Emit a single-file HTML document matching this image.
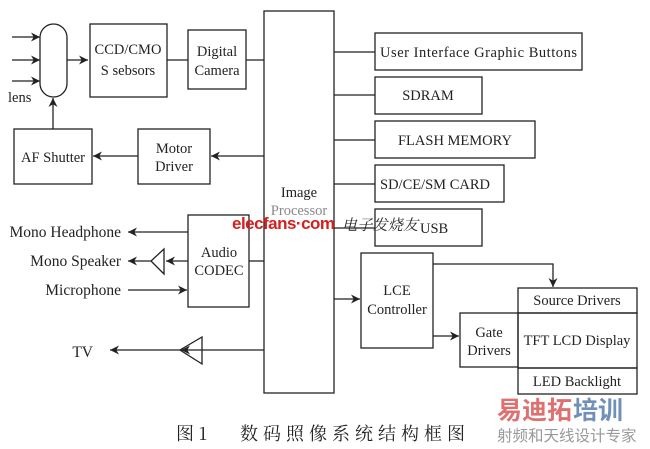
<!DOCTYPE html>
<html><head><meta charset="utf-8"><style>
html,body{margin:0;padding:0;background:#fff;}
svg{display:block;}
text{font-family:"Liberation Serif","Noto Serif CJK SC",serif;fill:#222;}
</style></head><body>
<svg width="650" height="449" viewBox="0 0 650 449" xmlns="http://www.w3.org/2000/svg">
<defs>
<marker id="a" viewBox="0 0 10 10" refX="10" refY="5" markerWidth="9" markerHeight="9" markerUnits="userSpaceOnUse" orient="auto"><path d="M0,0 L10,5 L0,10 L3,5 z" fill="#222"/></marker>
</defs>
<g stroke="#222" stroke-width="1.3" fill="none">
<rect x="40" y="24" width="27" height="73" rx="13.5" fill="#fff"/>
<line x1="12" y1="37" x2="40" y2="37" marker-end="url(#a)"/>
<line x1="12" y1="60" x2="40" y2="60" marker-end="url(#a)"/>
<line x1="12" y1="81" x2="40" y2="81" marker-end="url(#a)"/>
<line x1="67" y1="60" x2="88" y2="60" marker-end="url(#a)"/>
<rect x="90" y="24" width="77" height="73"/>
<line x1="167" y1="60" x2="188" y2="60"/>
<rect x="188" y="30" width="58" height="59"/>
<line x1="246" y1="60" x2="264" y2="60"/>
<rect x="14" y="129" width="78" height="55"/>
<rect x="138" y="129" width="72" height="55"/>
<line x1="53" y1="129" x2="53" y2="98" marker-end="url(#a)"/>
<line x1="138" y1="156" x2="93" y2="156" marker-end="url(#a)"/>
<line x1="264" y1="156" x2="211" y2="156" marker-end="url(#a)"/>
<rect x="264" y="11" width="70" height="382"/>
<rect x="375" y="33" width="207" height="37"/>
<rect x="375" y="77" width="107" height="37"/>
<rect x="375" y="121" width="160" height="37"/>
<rect x="375" y="165" width="129" height="37"/>
<rect x="375" y="209" width="107" height="37"/>
<line x1="334" y1="52" x2="375" y2="52"/>
<line x1="334" y1="95" x2="375" y2="95"/>
<line x1="334" y1="140" x2="375" y2="140"/>
<line x1="334" y1="184" x2="375" y2="184"/>
<line x1="334" y1="228" x2="375" y2="228"/>
<rect x="188" y="215" width="61" height="92"/>
<line x1="249" y1="261" x2="264" y2="261"/>
<line x1="188" y1="232" x2="128" y2="232" marker-end="url(#a)"/>
<line x1="188" y1="261" x2="166" y2="261" marker-end="url(#a)"/>
<polygon points="164,249 164,274 151,261" fill="#fff"/>
<line x1="151" y1="261" x2="128" y2="261" marker-end="url(#a)"/>
<line x1="128" y1="290" x2="187" y2="290" marker-end="url(#a)"/>
<line x1="264" y1="350" x2="202" y2="350"/>
<polygon points="202,337 202,364 180,350" fill="#fff"/>
<line x1="202" y1="350" x2="181" y2="350" marker-end="url(#a)"/>
<line x1="180" y1="350" x2="110" y2="350" marker-end="url(#a)"/>
<line x1="334" y1="299" x2="360" y2="299" marker-end="url(#a)"/>
<rect x="361" y="253" width="72" height="95"/>
<polyline points="433,264 553,264 553,287" marker-end="url(#a)"/>
<line x1="433" y1="336" x2="459" y2="336" marker-end="url(#a)"/>
<rect x="460" y="313" width="58" height="54"/>
<rect x="518" y="288" width="119" height="25"/>
<rect x="518" y="313" width="119" height="55"/>
<rect x="518" y="368" width="119" height="26"/>
</g>
<g font-size="14.5">
<text x="8" y="102">lens</text>
<text x="128" y="54" text-anchor="middle">CCD/CMO</text>
<text x="128" y="75" text-anchor="middle">S sebsors</text>
<text x="217" y="56" text-anchor="middle">Digital</text>
<text x="217" y="75" text-anchor="middle">Camera</text>
<text x="53" y="162" text-anchor="middle">AF Shutter</text>
<text x="174" y="153" text-anchor="middle">Motor</text>
<text x="174" y="171" text-anchor="middle">Driver</text>
<text x="299" y="197" text-anchor="middle">Image</text>
<text x="299" y="215" text-anchor="middle" style="fill:#888">Processor</text>
<text x="380" y="57" textLength="197">User Interface Graphic Buttons</text>
<text x="428" y="100" text-anchor="middle">SDRAM</text>
<text x="455" y="145" text-anchor="middle">FLASH MEMORY</text>
<text x="380" y="189">SD/CE/SM CARD</text>
<text x="420" y="233">USB</text>
<text x="219" y="257" text-anchor="middle">Audio</text>
<text x="219" y="275" text-anchor="middle">CODEC</text>
<text x="121" y="237" text-anchor="end" font-size="15.5">Mono Headphone</text>
<text x="121" y="266" text-anchor="end" font-size="15.5">Mono Speaker</text>
<text x="121" y="295" text-anchor="end" font-size="15.5">Microphone</text>
<text x="93" y="357" text-anchor="end" font-size="15.5">TV</text>
<text x="397" y="295" text-anchor="middle">LCE</text>
<text x="397" y="314" text-anchor="middle">Controller</text>
<text x="489" y="337" text-anchor="middle">Gate</text>
<text x="489" y="355" text-anchor="middle">Drivers</text>
<text x="577" y="305" text-anchor="middle">Source Drivers</text>
<text x="577" y="345" text-anchor="middle">TFT LCD Display</text>
<text x="577" y="386" text-anchor="middle">LED Backlight</text>
</g>
<text x="232" y="229" textLength="103" style="font-family:'Liberation Sans',sans-serif;font-size:17px;font-weight:bold;fill:#d42020">elecfans·com</text>
<text x="342" y="230" textLength="76" style="font-family:'Noto Serif CJK SC',serif;font-size:15px;font-style:italic">电子发烧友</text>
<text x="176" y="440" style="font-family:'Noto Serif CJK SC',serif;font-size:18px">图 1</text>
<text x="240" y="440" style="font-family:'Noto Serif CJK SC',serif;font-size:18px;letter-spacing:5px">数码照像系统结构框图</text>
<text x="497" y="419" textLength="75" style="font-family:'Noto Sans CJK SC',sans-serif;font-size:25px;font-weight:bold;fill:#e07070">易迪拓</text>
<text x="573" y="419" textLength="50" style="font-family:'Noto Sans CJK SC',sans-serif;font-size:25px;font-weight:bold;fill:#7090b8">培训</text>
<text x="497" y="441" style="font-family:'Noto Sans CJK SC',sans-serif;font-size:15.5px;fill:#999">射频和天线设计专家</text>
</svg>
</body></html>
